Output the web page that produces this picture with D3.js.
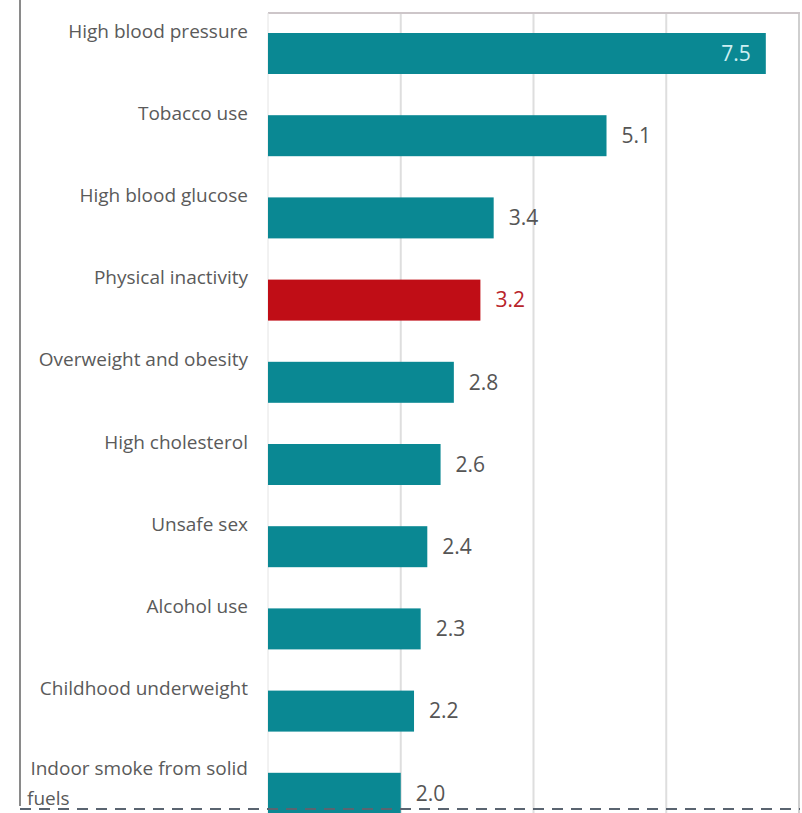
<!DOCTYPE html>
<html>
<head>
<meta charset="utf-8">
<script src="https://cdn.jsdelivr.net/npm/d3@7"></script>
<style>
  html, body { margin: 0; padding: 0; background: #fff; }
  svg { display: block; }
</style>
</head>
<body>
<div id="chart"></div>
<script>
const categories = [
  'High blood pressure',
  'Tobacco use',
  'High blood glucose',
  'Physical inactivity',
  'Overweight and obesity',
  'High cholesterol',
  'Unsafe sex',
  'Alcohol use',
  'Childhood underweight',
  'Indoor smoke from solid fuels'
];
const values = [7.5, 5.1, 3.4, 3.2, 2.8, 2.6, 2.4, 2.3, 2.2, 2.0];
const highlighted = ['Physical inactivity'];
const gridTicks = [2, 4, 6, 8];

const width = 802;
const height = 813;
const plot = { left: 268, right: 800, top: 13 };

const teal = '#0a8893';
const red = '#c00d16';

const rowStep = 82.2;
const barH = 41;

const svg = d3.select('#chart')
  .append('svg')
  .attr('width', width)
  .attr('height', height);

const x = d3.scaleLinear()
  .domain([0, 8])
  .range([plot.left, plot.right - 1]);

const y = d3.scaleBand()
  .domain(categories)
  .range([33, 33 + rowStep * (categories.length - 1) + barH])
  .paddingInner((rowStep - barH) / rowStep)
  .paddingOuter(0);

// outer frame line on far left
svg.append('line')
  .attr('x1', 20).attr('x2', 20)
  .attr('y1', 0).attr('y2', 806)
  .attr('stroke', '#8a8a8a')
  .attr('stroke-width', 2);

// gridlines
svg.append('g')
  .selectAll('line')
  .data(gridTicks)
  .join('line')
  .attr('x1', d => x(d)).attr('x2', d => x(d))
  .attr('y1', plot.top).attr('y2', height)
  .attr('stroke', d => d === 8 ? '#cfcfcf' : '#dedede')
  .attr('stroke-width', 2);

// top border of plot
svg.append('line')
  .attr('x1', plot.left).attr('x2', plot.right)
  .attr('y1', plot.top).attr('y2', plot.top)
  .attr('stroke', '#cdc6c9')
  .attr('stroke-width', 2);

// left axis line
svg.append('line')
  .attr('x1', plot.left).attr('x2', plot.left)
  .attr('y1', plot.top).attr('y2', height)
  .attr('stroke', '#e4e4e4')
  .attr('stroke-width', 1);

// bars
svg.append('g')
  .selectAll('rect')
  .data(categories)
  .join('rect')
  .attr('x', x(0))
  .attr('y', d => y(d))
  .attr('width', (d, i) => x(values[i]) - x(0))
  .attr('height', y.bandwidth())
  .attr('fill', d => highlighted.includes(d) ? red : teal);

// category labels, sitting above each bar
const labelG = svg.append('g')
  .style('font-family', '"Open Sans", sans-serif')
  .style('font-size', '19px')
  .attr('fill', '#5a5a5a');

categories.forEach((c, i) => {
  const base = y(c) + y.bandwidth() / 2 - 16;
  if (i === categories.length - 1) {
    labelG.append('text')
      .attr('x', 248).attr('y', base - 2)
      .attr('text-anchor', 'end')
      .text('Indoor smoke from solid');
    labelG.append('text')
      .attr('x', 27).attr('y', base + 28)
      .attr('text-anchor', 'start')
      .text('fuels');
  } else {
    labelG.append('text')
      .attr('x', 248).attr('y', base)
      .attr('text-anchor', 'end')
      .text(c);
  }
});

// value labels
svg.append('g')
  .style('font-family', '"Open Sans", sans-serif')
  .style('font-size', '21px')
  .selectAll('text')
  .data(categories)
  .join('text')
  .attr('x', (d, i) => i === 0 ? x(values[i]) - 15 : x(values[i]) + 15)
  .attr('y', d => y(d) + y.bandwidth() / 2)
  .attr('dy', '0.35em')
  .attr('text-anchor', (d, i) => i === 0 ? 'end' : 'start')
  .attr('fill', (d, i) => i === 0 ? '#cdeff2' : highlighted.includes(d) ? '#b8242a' : '#555')
  .text((d, i) => d3.format('.1f')(values[i]));

// dashed baseline at the bottom
svg.append('line')
  .attr('x1', 20).attr('x2', plot.right)
  .attr('y1', 809).attr('y2', 809)
  .attr('stroke', '#5a6470')
  .attr('stroke-width', 2)
  .attr('stroke-dasharray', '11,8');
</script>
</body>
</html>
